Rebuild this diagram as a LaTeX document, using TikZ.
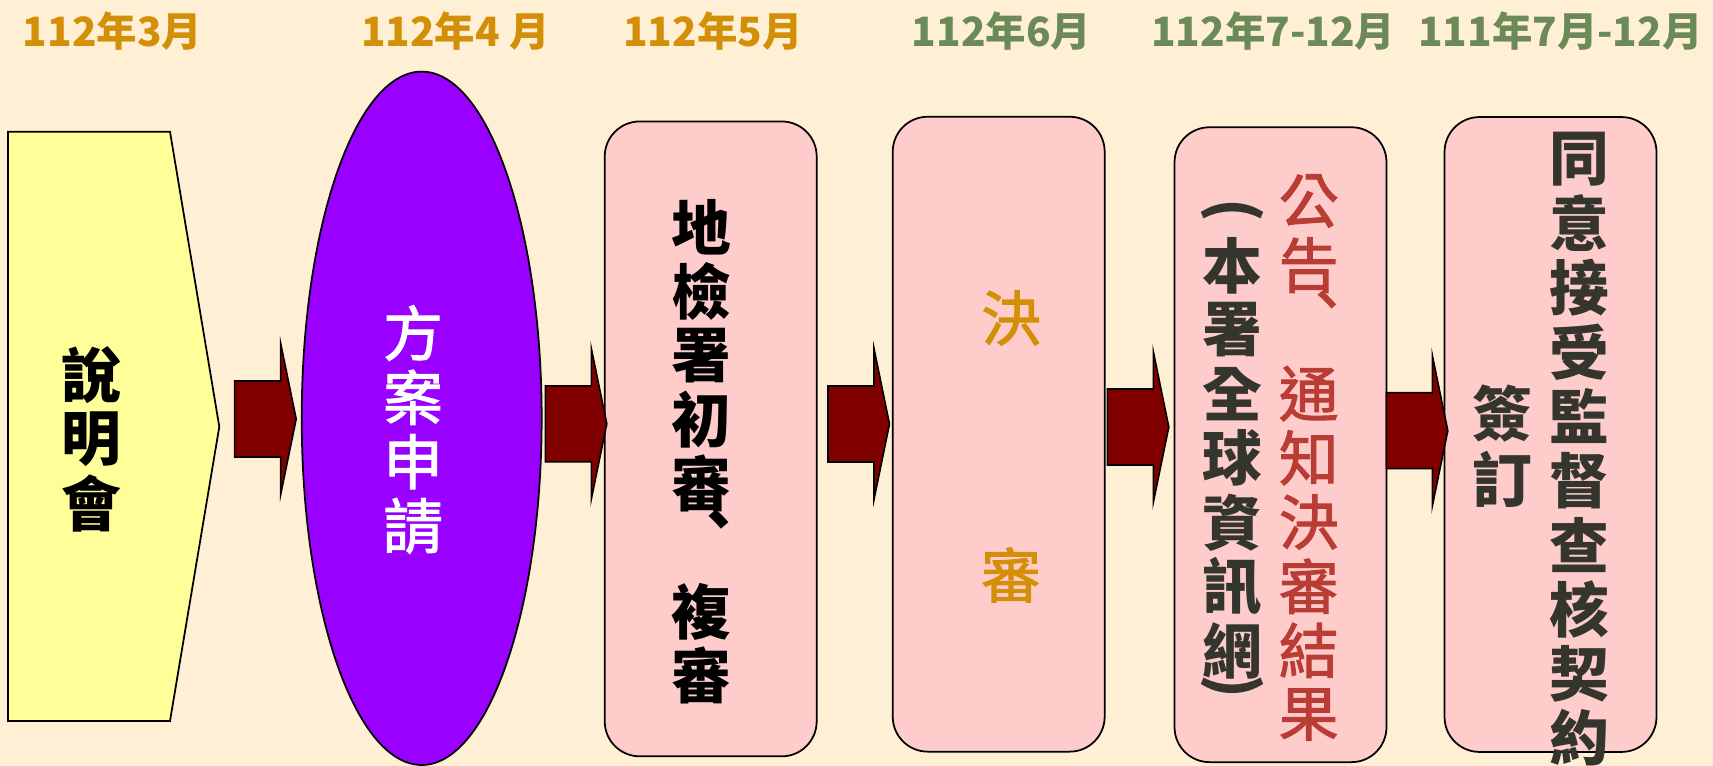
\documentclass[tikz,border=0pt]{standalone}
\usepackage{fontspec}
\setmainfont{Noto Sans CJK TC}
\newfontfamily\medfont[FakeBold=1.8]{Noto Sans CJK TC}
\usepackage{xcolor}
\usetikzlibrary{shapes,positioning,calc}

\definecolor{paper}{HTML}{FFF0D5}
\definecolor{meetyellow}{HTML}{FFFF99}
\definecolor{applypurple}{HTML}{9900FF}
\definecolor{boxpink}{HTML}{FFCCCC}
\definecolor{arrowred}{HTML}{800000}
\definecolor{dategold}{HTML}{D48F08}
\definecolor{dategreen}{HTML}{6B8A57}
\definecolor{noticered}{HTML}{B93D35}
\definecolor{inkgray}{HTML}{34352D}

\tikzset{
  stagebox/.style={draw=black, line width=1pt, fill=boxpink, rounded corners=0.7cm, minimum width=4.24cm, minimum height=12.7cm},
  flowarrow/.style={draw=black, line width=0.9pt, fill=arrowred},
  datelabel/.style={inner sep=0pt, font=\fontsize{23}{26}\selectfont\bfseries},
  charmed/.style={inner sep=0pt, font=\medfont\fontsize{34}{36}\selectfont},
  charbold/.style={inner sep=0pt, font=\fontsize{34}{36}\selectfont\bfseries},
}

\begin{document}
\begin{tikzpicture}[x=0.02cm, y=-0.02cm]
    \useasboundingbox (0,0) rectangle (1713,766);
    \fill [paper] (0,0) rectangle (1713,766);

    % dates
    \node [datelabel, text=dategold] (d1) at (112.5,31.5) {112年3月};
    \node [datelabel, text=dategold] (d2) at (455.3,31.5) {112年4 月};
    \node [datelabel, text=dategold] (d3) at (713,31.5) {112年5月};
    \node [datelabel, text=dategreen] (d4) at (1001.5,31.5) {112年6月};
    \node [datelabel, text=dategreen] (d5) at (1273.3,31.5) {112年7-12月};
    \node [datelabel, text=dategreen] (d6) at (1560.4,31.5) {111年7月-12月};

    % stages
    \draw [line width=1pt, fill=meetyellow] (8,131.7) coordinate (mtl) -- (170,131.7) -- (219.3,426.7) coordinate (mtip) -- (170,721) -- (8,721) -- cycle;
    \node [ellipse, draw=black, line width=1pt, fill=applypurple, minimum width=4.8cm, minimum height=13.87cm] (apply) at (421.7,418.3) {};
    \node [stagebox] (review) at (710.7,438.9) {};
    \node [stagebox] (final) at (998.7,434.2) {};
    \node [stagebox] (notice) at (1280.5,444.7) {};
    \node [stagebox] (sign) at (1550.5,434.5) {};

    % block arrows
    \foreach \ax/\ay [count=\i] in {234.7/419, 545.3/423.8, 828/424, 1107.3/427, 1386.3/430.7} {
        \coordinate (a\i) at (\ax,\ay);
        \draw [flowarrow] (a\i) ++(0,-38) -- ++(46,0) -- ++(0,-37.5) -- ++(15.5,75.5) -- ++(-15.5,75.5) -- ++(0,-37.5) -- ++(-46,0) -- cycle;
    }

    % texts
    \foreach \c [count=\i from 0] in {說,明,會}
        \node [charbold] (mt\i) at (91,375.5+63.8*\i) {\c};
    \foreach \c [count=\i from 0] in {方,案,申,請}
        \node [charmed, text=white] (ap\i) at (413,333+64.3*\i) {\c};
    \foreach \c/\k in {地/0,檢/1,署/2,初/3,審/4,複/6,審/7}
        \node [charbold] (rv\k) at (701,227+64.1*\k) {\c};
    \node [charbold] (rvsep) at (701,535) {︑};
    \node [charmed, text=dategold] (fn1) at (1011,318) {決};
    \node [charmed, text=dategold] (fn2) at (1011,575) {審};
    \node [charbold, text=inkgray, rotate=-90] (web0) at (1232.3,210) {(};
    \foreach \c [count=\i] in {本,署,全,球,資,訊,網}
        \node [charbold, text=inkgray] (web\i) at (1232.3,201.3+64.2*\i) {\c};
    \node [charbold, text=inkgray, rotate=-90] (web8) at (1232.3,686) {)};
    \foreach \c/\k in {公/0,告/1,通/3,知/4,決/5,審/6,結/7,果/8}
        \node [charmed, text=noticered] (nt\k) at (1308.7,201+64.2*\k) {\c};
    \node [charmed, text=noticered] (ntsep) at (1308.7,316) {︑};
    \node [charbold, text=inkgray] (sg1) at (1502,414) {簽};
    \node [charbold, text=inkgray] (sg2) at (1502,479) {訂};
    \foreach \c [count=\i from 0] in {同,意,接,受,監,督,查,核,契,約}
        \node [charbold, text=inkgray] (ok\i) at (1579,159+64.3*\i) {\c};
\end{tikzpicture}
\end{document}
